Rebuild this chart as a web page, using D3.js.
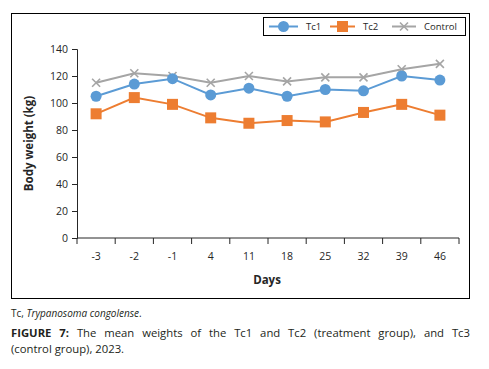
<!DOCTYPE html>
<html>
<head>
<meta charset="utf-8">
<script src="https://cdn.jsdelivr.net/npm/d3@7"></script>
<style>
  body { margin: 0; background: #fff; }
  #wrap { position: relative; width: 489px; height: 369px; }
  #caption {
    position: absolute; left: 11px; top: 306px; width: 459px;
    font-family: "Open Sans", sans-serif; color: #231f20;
  }
  #caption .note { font-size: 10px; line-height: 14px; margin: 0 0 5px 0; }
  #caption .fig { font-size: 11.3px; line-height: 16px; margin: 0; white-space: nowrap; }
  #caption .fig.first { text-align: justify; text-align-last: justify; }
</style>
</head>
<body>
<div id="wrap">
  <div id="chart"></div>
  <div id="caption">
    <div class="note">Tc, <i>Trypanosoma congolense</i>.</div>
    <div class="fig first"><b>FIGURE 7:</b> The mean weights of the Tc1 and Tc2 (treatment group), and Tc3</div>
    <div class="fig">(control group), 2023.</div>
  </div>
</div>
<script>
// data
var days = ["-3", "-2", "-1", "4", "11", "18", "25", "32", "39", "46"];
var tc1 = [105, 114, 118, 106, 111, 105, 110, 109, 120, 117];
var tc2 = [92, 104, 99, 89, 85, 87, 86, 93, 99, 91];
var control = [115, 122, 120, 115, 120, 116, 119, 119, 125, 129];
var yTicks = [0, 20, 40, 60, 80, 100, 120, 140];

var series = [
  { name: "Tc1", values: tc1, color: "#5b9bd5", marker: "circle" },
  { name: "Tc2", values: tc2, color: "#ed7d31", marker: "square" },
  { name: "Control", values: control, color: "#a5a5a5", marker: "cross" }
];

var W = 489, H = 300;
var margin = { top: 49, left: 77, right: 30, bottom: 62 };

var svg = d3.select("#chart").append("svg")
  .attr("width", W)
  .attr("height", H)
  .style("display", "block")
  .attr("font-family", "'Open Sans', sans-serif");

// outer frame
svg.append("rect")
  .attr("x", 11.5).attr("y", 13.5)
  .attr("width", 458).attr("height", 285)
  .attr("fill", "none").attr("stroke", "#000").attr("stroke-width", 1);

var x = d3.scaleBand().domain(days).range([margin.left, W - margin.right]);
var y = d3.scaleLinear().domain([0, 140]).range([H - margin.bottom, margin.top]);

var tickColor = "#262626";

// y axis
var yAxis = svg.append("g")
  .attr("transform", "translate(" + margin.left + ",0)")
  .call(d3.axisLeft(y).tickValues(yTicks).tickSize(5).tickPadding(4))
yAxis.selectAll("path,line").attr("stroke", tickColor);
yAxis.selectAll("text").attr("font-size", "10.5px").attr("fill", "#262626")
  .attr("font-family", "'Open Sans', sans-serif");

// x axis, ticks at band edges pointing down
var xAxisG = svg.append("g")
  .attr("transform", "translate(0," + y(0) + ")");
xAxisG.append("line")
  .attr("x1", margin.left).attr("x2", W - margin.right)
  .attr("stroke", tickColor);
var edges = days.map(d => x(d)).concat([x(days[days.length - 1]) + x.bandwidth()]);
xAxisG.selectAll(".edge").data(edges).enter().append("line")
  .attr("x1", d => d).attr("x2", d => d)
  .attr("y1", 0).attr("y2", 6)
  .attr("stroke", tickColor);
xAxisG.selectAll(".lbl").data(days).enter().append("text")
  .attr("x", d => x(d) + x.bandwidth() / 2)
  .attr("y", 22)
  .attr("text-anchor", "middle")
  .attr("font-size", "10.5px")
  .attr("fill", "#262626")
  .text(d => d);

// axis titles
svg.append("text")
  .attr("x", x.range()[0] + (x.range()[1] - x.range()[0]) / 2 - 1)
  .attr("y", 284)
  .attr("text-anchor", "middle")
  .attr("font-size", "11.5px").attr("font-weight", "bold")
  .attr("fill", "#262626")
  .text("Days");

svg.append("text")
  .attr("transform", "translate(33," + ((y(0) + y(140)) / 2) + ") rotate(-90)")
  .attr("text-anchor", "middle")
  .attr("font-size", "11.5px").attr("font-weight", "bold")
  .attr("fill", "#262626")
  .text("Body weight (kg)");

var cx = d => x(d) + x.bandwidth() / 2;

function drawMarker(g, type, color) {
  if (type === "circle") {
    g.append("circle").attr("r", 5.5).attr("fill", color);
  } else if (type === "square") {
    g.append("rect").attr("x", -5.5).attr("y", -5.5).attr("width", 11).attr("height", 11).attr("fill", color);
  } else {
    g.append("path").attr("d", "M-4,-4L4,4M-4,4L4,-4")
      .attr("stroke", color).attr("stroke-width", 1.6).attr("fill", "none");
  }
}

var line = d3.line().x((d, i) => cx(days[i])).y(d => y(d));

// draw control first so it sits behind
[series[2], series[1], series[0]].forEach(function(s) {
  svg.append("path")
    .attr("d", line(s.values))
    .attr("fill", "none")
    .attr("stroke", s.color)
    .attr("stroke-width", 2);
});
[series[2], series[1], series[0]].forEach(function(s) {
  s.values.forEach(function(v, i) {
    var g = svg.append("g").attr("transform", "translate(" + cx(days[i]) + "," + y(v) + ")");
    drawMarker(g, s.marker, s.color);
  });
});

// legend
var legend = svg.append("g");
legend.append("rect")
  .attr("x", 263.5).attr("y", 17.5)
  .attr("width", 202).attr("height", 18)
  .attr("fill", "#fff").attr("stroke", "#000");
var legPos = [
  { x1: 269, x2: 298, tx: 306 },
  { x1: 330, x2: 355, tx: 363 },
  { x1: 392, x2: 416, tx: 424 }
];
series.forEach(function(s, i) {
  var p = legPos[i];
  legend.append("line")
    .attr("x1", p.x1).attr("x2", p.x2).attr("y1", 26.5).attr("y2", 26.5)
    .attr("stroke", s.color).attr("stroke-width", 2);
  var g = legend.append("g").attr("transform", "translate(" + ((p.x1 + p.x2) / 2) + ",26.5)");
  drawMarker(g, s.marker, s.color);
  legend.append("text")
    .attr("x", p.tx).attr("y", 30)
    .attr("font-size", "9.5px").attr("fill", "#262626")
    .text(s.name);
});
</script>
</body>
</html>
